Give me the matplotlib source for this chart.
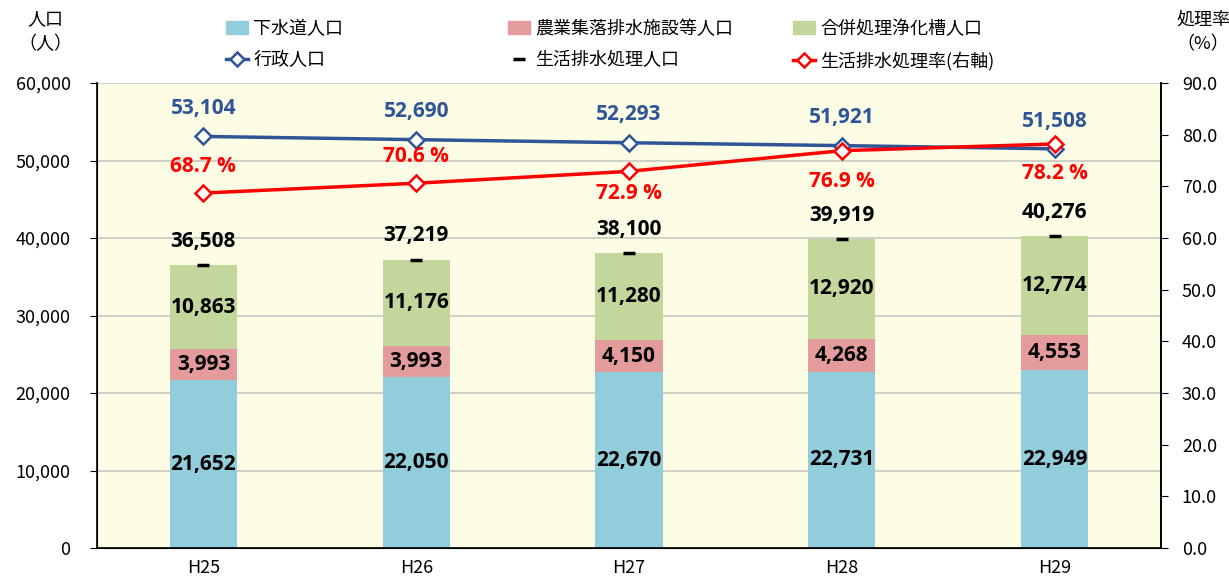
import matplotlib
matplotlib.use("Agg")
import matplotlib.pyplot as plt
from matplotlib.lines import Line2D
from matplotlib.patches import Patch
import numpy as np

plt.rcParams['font.family'] = ['Noto Sans CJK JP', 'DejaVu Sans']

years = ["H25", "H26", "H27", "H28", "H29"]
sewer = [21652, 22050, 22670, 22731, 22949]
rural = [3993, 3993, 4150, 4268, 4553]
septic = [10863, 11176, 11280, 12920, 12774]
treated = [36508, 37219, 38100, 39919, 40276]
admin_pop = [53104, 52690, 52293, 51921, 51508]
rate = [68.7, 70.6, 72.9, 76.9, 78.2]
# red label above (+) or below (-) its marker, in points
rate_offset = [19, 19, -16, -22, -21]

c_sewer = "#92cddc"
c_rural = "#e39b9b"
c_septic = "#c3d69b"
c_admin = "#2f5597"
c_rate = "#ff0000"

fig = plt.figure(figsize=(12.29, 5.8), dpi=100)
ax = fig.add_axes([97 / 1229, 32 / 580, 1064 / 1229, 465 / 580])
ax.set_facecolor("#fdfde6")
x = np.arange(len(years))
w = 0.315

ax.bar(x, sewer, w, color=c_sewer, zorder=2)
ax.bar(x, rural, w, bottom=sewer, color=c_rural, zorder=2)
bottom2 = np.array(sewer) + np.array(rural)
ax.bar(x, septic, w, bottom=bottom2, color=c_septic, zorder=2)

lab_font = dict(fontsize=15, fontweight="bold", family=["Open Sans", "DejaVu Sans"])
for i in x:
    ax.text(i, sewer[i] / 2, f"{sewer[i]:,}", ha="center", va="center", zorder=5, **lab_font)
    ax.text(i, sewer[i] + rural[i] / 2, f"{rural[i]:,}", ha="center", va="center", zorder=5, **lab_font)
    ax.text(i, bottom2[i] + septic[i] / 2, f"{septic[i]:,}", ha="center", va="center", zorder=5, **lab_font)
    ax.annotate(f"{treated[i]:,}", (i, treated[i]), xytext=(0, 17), textcoords="offset points",
                ha="center", va="center", zorder=5, **lab_font)

ax.plot(x, treated, linestyle="none", marker="_", markersize=9, markeredgewidth=2.5,
        color="black", zorder=4)
ax.plot(x, admin_pop, color=c_admin, lw=2.5, marker="D", markersize=8,
        markerfacecolor="white", markeredgecolor=c_admin, markeredgewidth=1.8, zorder=4)
for i in x:
    ax.annotate(f"{admin_pop[i]:,}", (i, admin_pop[i]), xytext=(0, 20), textcoords="offset points",
                ha="center", va="center", color=c_admin, zorder=5, **lab_font)

ax.set_xlim(-0.5, 4.5)
ax.set_ylim(0, 60000)
ax.set_yticks(np.arange(0, 60001, 10000))
ax.set_yticklabels([f"{v:,}" for v in range(0, 60001, 10000)])
ax.set_xticks(x)
ax.set_xticklabels(years)
ax.yaxis.grid(True, color="#c8c8c0", lw=1.2, zorder=0)
ax.set_axisbelow(True)
ax.tick_params(axis="y", labelsize=13, length=5, direction="out", pad=14)
ax.tick_params(axis="x", labelsize=13, length=0, pad=8)
ax.spines["top"].set_visible(False)
for s in ["left", "bottom", "right"]:
    ax.spines[s].set_linewidth(1.2)

ax2 = ax.twinx()
ax2.set_ylim(0, 90)
ax2.set_yticks(np.arange(0, 91, 10))
ax2.set_yticklabels([f"{v:.1f}" for v in range(0, 91, 10)])
ax2.tick_params(axis="y", labelsize=13, length=5, direction="out", pad=10)
ax2.spines["top"].set_visible(False)
ax2.spines["right"].set_linewidth(1.2)
ax2.plot(x, rate, color=c_rate, lw=2.5, marker="D", markersize=8,
         markerfacecolor="white", markeredgecolor=c_rate, markeredgewidth=1.8, zorder=4)
for i in x:
    ax2.annotate(f"{rate[i]} %", (i, rate[i]), xytext=(0, rate_offset[i]), textcoords="offset points",
                 ha="center", va="center", color=c_rate, **lab_font)

fig.text(45 / 1229, 1 - 32 / 580, "人口\n（人）", ha="center", va="center", fontsize=13,
         linespacing=1.5)
fig.text(1203 / 1229, 1 - 32 / 580, "処理率\n（%）", ha="center", va="center", fontsize=13,
         linespacing=1.5)

leg_kw = dict(frameon=False, fontsize=13, handlelength=1.2, handletextpad=0.3,
              labelspacing=0.75, borderpad=0, borderaxespad=0)
groups = [
    ([Patch(color=c_sewer), Line2D([], [], color=c_admin, lw=2.5, marker="D", markersize=7,
                                   markerfacecolor="white", markeredgewidth=1.8)],
     ["下水道人口", "行政人口"], 226),
    ([Patch(color=c_rural), Line2D([], [], color="black", lw=0, marker="_", markersize=8,
                                   markeredgewidth=2.5)],
     ["農業集落排水施設等人口", "生活排水処理人口"], 508),
    ([Patch(color=c_septic), Line2D([], [], color=c_rate, lw=2.5, marker="D", markersize=7,
                                    markerfacecolor="white", markeredgewidth=1.8)],
     ["合併処理浄化槽人口", "生活排水処理率(右軸)"], 793),
]
for handles, labels, px in groups:
    fig.legend(handles, labels, loc="upper left",
               bbox_to_anchor=(px / 1229, 1 - 20 / 580), **leg_kw)

fig.savefig("out.png", dpi=100)
